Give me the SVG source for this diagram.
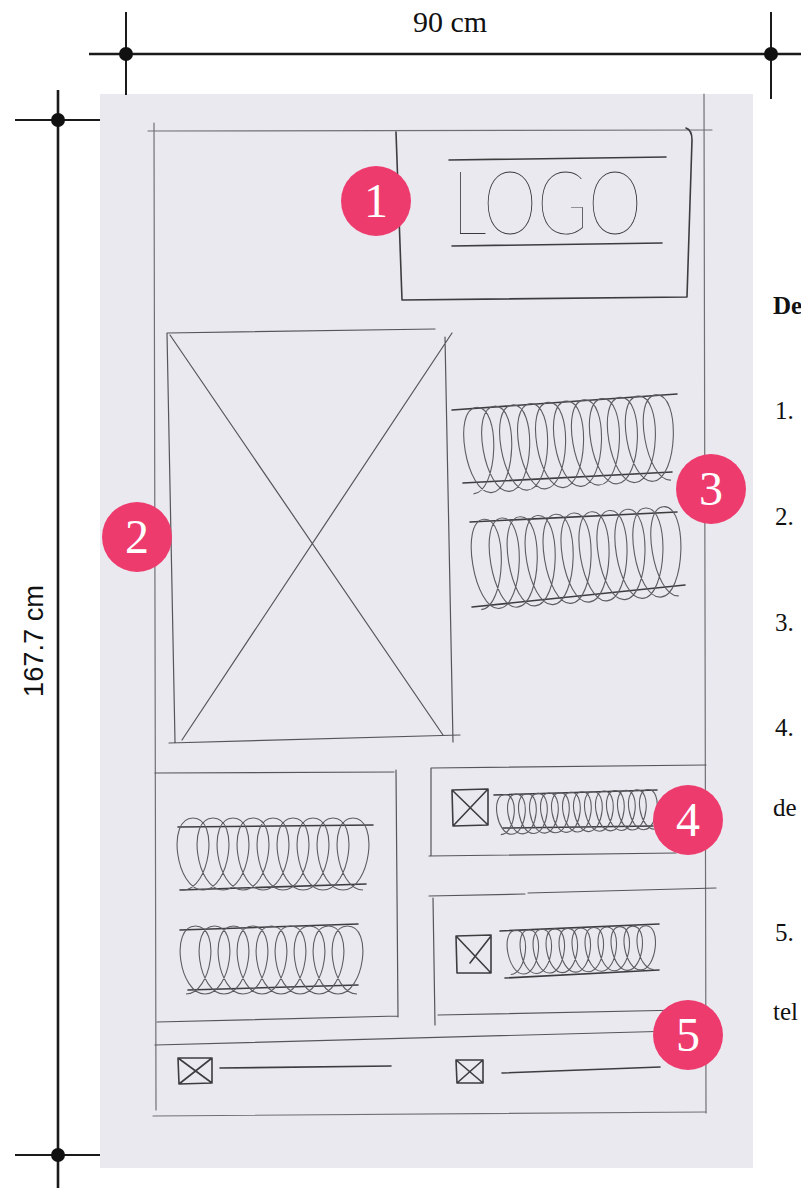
<svg xmlns="http://www.w3.org/2000/svg" width="801" height="1188" viewBox="0 0 801 1188">
<style>
.dim{stroke:#1a1a1a;stroke-width:2;fill:none}
.dimh{stroke:#1a1a1a;stroke-width:2.6;fill:none}
.dot{fill:#111}
.frame{stroke:#707074;stroke-width:1.2;fill:none;stroke-linecap:round}
.pen{stroke:#3d3d40;stroke-width:1.6;fill:none;stroke-linecap:round;stroke-linejoin:round}
.thin{stroke:#55555a;stroke-width:1.2;fill:none;stroke-linecap:round}
.loop{stroke:#5c5c61;stroke-width:1.1;fill:none}
.badge circle{fill:#ee3b6e}
.badge text{fill:#ffffff;font-family:"Liberation Serif",serif;font-size:48px;text-anchor:middle}
.side{font-family:"Liberation Serif",serif;font-size:25px;fill:#111}
.dimtxt{font-family:"Liberation Serif",serif;font-size:30px;fill:#111;text-anchor:middle}
</style>

<!-- paper -->
<rect id="paper" x="100" y="94" width="653" height="1074" fill="#eae9ef"/>

<!-- dimensions -->
<g id="dimensions">
  <line class="dimh" x1="89" y1="54" x2="801" y2="54"/>
  <line class="dim" x1="126" y1="12" x2="126" y2="95"/>
  <line class="dim" x1="771" y1="12" x2="771" y2="99"/>
  <circle class="dot" cx="126" cy="54" r="7"/>
  <circle class="dot" cx="771" cy="54" r="7"/>
  <text class="dimtxt" x="450" y="32">90 cm</text>
  <line class="dimh" x1="58" y1="90" x2="58" y2="1188"/>
  <line class="dim" x1="15" y1="120" x2="100" y2="120"/>
  <line class="dim" x1="15" y1="1155" x2="100" y2="1155"/>
  <circle class="dot" cx="58" cy="120" r="7"/>
  <circle class="dot" cx="58" cy="1155" r="7"/>
  <text transform="translate(43,641) rotate(-90)" x="0" y="0" text-anchor="middle" font-family="Liberation Sans, sans-serif" font-size="28" textLength="112" lengthAdjust="spacingAndGlyphs" fill="#111">167.7 cm</text>
</g>

<!-- page frame -->
<g id="frame">
  <line class="frame" x1="148" y1="131" x2="712" y2="130"/>
  <line class="frame" x1="154" y1="123" x2="156" y2="1110"/>
  <line class="frame" x1="704" y1="94" x2="706" y2="1113"/>
  <line class="frame" x1="153" y1="1116" x2="706" y2="1112"/>
</g>

<!-- 1: logo -->
<g id="logo">
  <path class="pen" d="M396,132 L402,300 L687,297 L692,140 Q692,130 686,128"/>
  <line class="pen" x1="449" y1="160" x2="666" y2="157"/>
  <line class="pen" x1="452" y1="246" x2="662" y2="243"/>
  <text x="452" y="234" font-family="Lato, sans-serif" font-weight="100" font-size="88" textLength="190" lengthAdjust="spacingAndGlyphs" fill="#3a3a3d">LOGO</text>
</g>

<!-- 2: image placeholder -->
<g id="image">
  <path class="thin" d="M167,333 L435,329 M167,333 L175,742 M445,337 L453,742 M169,743 L460,735 M170,335 L443,735 M452,333 L182,740"/>
</g>

<!-- 3: text blocks right -->
<g id="text-right">
  <line class="pen" x1="452" y1="410" x2="677" y2="394"/>
  <line class="pen" x1="463" y1="483" x2="672" y2="472"/>
  <line class="pen" x1="470" y1="522" x2="677" y2="512"/>
  <line class="pen" x1="472" y1="607" x2="685" y2="585"/>
  <path class="loop" transform="rotate(-4 570 440)" d="M470,487 c 25,0 34,-86 9,-86 c -25,0 -16,86 9,86 c 25,0 34,-86 9,-86 c -25,0 -16,86 9,86 c 25,0 34,-86 9,-86 c -25,0 -16,86 9,86 c 25,0 34,-86 9,-86 c -25,0 -16,86 9,86 c 25,0 34,-86 9,-86 c -25,0 -16,86 9,86 c 25,0 34,-86 9,-86 c -25,0 -16,86 9,86 c 25,0 34,-86 9,-86 c -25,0 -16,86 9,86 c 25,0 34,-86 9,-86 c -25,0 -16,86 9,86 c 25,0 34,-86 9,-86 c -25,0 -16,86 9,86 c 25,0 34,-86 9,-86 c -25,0 -16,86 9,86 c 25,0 34,-86 9,-86 c -25,0 -16,86 9,86"/>
  <path class="loop" transform="rotate(-4 575 560)" d="M478,603 c 25,0 34,-90 9,-90 c -25,0 -16,90 9,90 c 25,0 34,-90 9,-90 c -25,0 -16,90 9,90 c 25,0 34,-90 9,-90 c -25,0 -16,90 9,90 c 25,0 34,-90 9,-90 c -25,0 -16,90 9,90 c 25,0 34,-90 9,-90 c -25,0 -16,90 9,90 c 25,0 34,-90 9,-90 c -25,0 -16,90 9,90 c 25,0 34,-90 9,-90 c -25,0 -16,90 9,90 c 25,0 34,-90 9,-90 c -25,0 -16,90 9,90 c 25,0 34,-90 9,-90 c -25,0 -16,90 9,90 c 25,0 34,-90 9,-90 c -25,0 -16,90 9,90 c 25,0 34,-90 9,-90 c -25,0 -16,90 9,90"/>
</g>

<!-- lower left box -->
<g id="box-left">
  <path class="thin" d="M155,773 L394,772 M396,770 L398,1017 M157,1022 L398,1016"/>
  <line class="pen" x1="178" y1="827" x2="373" y2="825"/>
  <line class="pen" x1="180" y1="890" x2="366" y2="884"/>
  <line class="pen" x1="180" y1="930" x2="358" y2="924"/>
  <line class="pen" x1="188" y1="990" x2="358" y2="985"/>
  <path class="loop" d="M183,890 c 27,0 37,-72 10,-72 c -27,0 -17,72 10,72 c 27,0 37,-72 10,-72 c -27,0 -17,72 10,72 c 27,0 37,-72 10,-72 c -27,0 -17,72 10,72 c 27,0 37,-72 10,-72 c -27,0 -17,72 10,72 c 27,0 37,-72 10,-72 c -27,0 -17,72 10,72 c 27,0 37,-72 10,-72 c -27,0 -17,72 10,72 c 27,0 37,-72 10,-72 c -27,0 -17,72 10,72 c 27,0 37,-72 10,-72 c -27,0 -17,72 10,72 c 27,0 37,-72 10,-72 c -27,0 -17,72 10,72"/>
  <path class="loop" d="M186,994 c 26,0 35.5,-68 9.5,-68 c -26,0 -16.5,68 9.5,68 c 26,0 35.5,-68 9.5,-68 c -26,0 -16.5,68 9.5,68 c 26,0 35.5,-68 9.5,-68 c -26,0 -16.5,68 9.5,68 c 26,0 35.5,-68 9.5,-68 c -26,0 -16.5,68 9.5,68 c 26,0 35.5,-68 9.5,-68 c -26,0 -16.5,68 9.5,68 c 26,0 35.5,-68 9.5,-68 c -26,0 -16.5,68 9.5,68 c 26,0 35.5,-68 9.5,-68 c -26,0 -16.5,68 9.5,68 c 26,0 35.5,-68 9.5,-68 c -26,0 -16.5,68 9.5,68 c 26,0 35.5,-68 9.5,-68 c -26,0 -16.5,68 9.5,68"/>
</g>

<!-- 4: lower right box -->
<g id="box-4">
  <path class="thin" d="M431,768 L706,765 M431,768 L431,856 M429,856 L676,853"/>
  <path class="pen" d="M452,790 L488,789 L488,825 L453,826 Z M452,790 L488,825 M488,789 L453,826"/>
  <line class="pen" x1="494" y1="795" x2="657" y2="790"/>
  <line class="pen" x1="503" y1="828" x2="653" y2="826"/>
  <path class="loop" transform="rotate(-2 577 810)" d="M500,832 c 15,0 20.5,-40 5.5,-40 c -15,0 -9.5,40 5.5,40 c 15,0 20.5,-40 5.5,-40 c -15,0 -9.5,40 5.5,40 c 15,0 20.5,-40 5.5,-40 c -15,0 -9.5,40 5.5,40 c 15,0 20.5,-40 5.5,-40 c -15,0 -9.5,40 5.5,40 c 15,0 20.5,-40 5.5,-40 c -15,0 -9.5,40 5.5,40 c 15,0 20.5,-40 5.5,-40 c -15,0 -9.5,40 5.5,40 c 15,0 20.5,-40 5.5,-40 c -15,0 -9.5,40 5.5,40 c 15,0 20.5,-40 5.5,-40 c -15,0 -9.5,40 5.5,40 c 15,0 20.5,-40 5.5,-40 c -15,0 -9.5,40 5.5,40 c 15,0 20.5,-40 5.5,-40 c -15,0 -9.5,40 5.5,40 c 15,0 20.5,-40 5.5,-40 c -15,0 -9.5,40 5.5,40 c 15,0 20.5,-40 5.5,-40 c -15,0 -9.5,40 5.5,40 c 15,0 20.5,-40 5.5,-40 c -15,0 -9.5,40 5.5,40 c 15,0 20.5,-40 5.5,-40 c -15,0 -9.5,40 5.5,40"/>
</g>

<!-- lower right second box -->
<g id="box-right2">
  <path class="thin" d="M429,896 L525,894 M528,893 L716,888 M433,898 L435,1025 M438,1015 L683,1010"/>
  <path class="pen" d="M456,936 L491,935 L491,973 L457,973 Z M456,936 L491,973 M491,936 L470,963"/>
  <line class="pen" x1="500" y1="931" x2="659" y2="924"/>
  <line class="pen" x1="505" y1="978" x2="659" y2="970"/>
  <path class="loop" transform="rotate(-2 580 950)" d="M510,972 c 16,0 22.5,-44 6.5,-44 c -16,0 -9.5,44 6.5,44 c 16,0 22.5,-44 6.5,-44 c -16,0 -9.5,44 6.5,44 c 16,0 22.5,-44 6.5,-44 c -16,0 -9.5,44 6.5,44 c 16,0 22.5,-44 6.5,-44 c -16,0 -9.5,44 6.5,44 c 16,0 22.5,-44 6.5,-44 c -16,0 -9.5,44 6.5,44 c 16,0 22.5,-44 6.5,-44 c -16,0 -9.5,44 6.5,44 c 16,0 22.5,-44 6.5,-44 c -16,0 -9.5,44 6.5,44 c 16,0 22.5,-44 6.5,-44 c -16,0 -9.5,44 6.5,44 c 16,0 22.5,-44 6.5,-44 c -16,0 -9.5,44 6.5,44 c 16,0 22.5,-44 6.5,-44 c -16,0 -9.5,44 6.5,44 c 16,0 22.5,-44 6.5,-44 c -16,0 -9.5,44 6.5,44"/>
</g>

<!-- 5: footer -->
<g id="footer">
  <line class="thin" x1="155" y1="1045" x2="712" y2="1030"/>
  <path class="pen" d="M178,1058 L212,1058 L212,1083 L179,1084 Z M178,1058 L212,1083 M212,1058 L179,1084"/>
  <line class="pen" x1="220" y1="1068" x2="391" y2="1066"/>
  <path class="pen" d="M456,1060 L483,1060 L483,1083 L457,1083 Z M456,1060 L483,1083 M483,1060 L457,1083"/>
  <line class="pen" x1="502" y1="1073" x2="660" y2="1067"/>
</g>

<!-- badges -->
<g id="badge-1" class="badge"><circle cx="376" cy="201" r="35"/><text x="376" y="217">1</text></g>
<g id="badge-2" class="badge"><circle cx="137" cy="537" r="35"/><text x="137" y="553">2</text></g>
<g id="badge-3" class="badge"><circle cx="711" cy="489" r="35"/><text x="711" y="505">3</text></g>
<g id="badge-4" class="badge"><circle cx="688" cy="820" r="35"/><text x="688" y="836">4</text></g>
<g id="badge-5" class="badge"><circle cx="688" cy="1035" r="35"/><text x="688" y="1051">5</text></g>

<!-- side text -->
<g id="side-text">
  <text class="side" x="773" y="314" font-weight="bold">De</text>
  <text class="side" x="775" y="419">1.</text>
  <text class="side" x="775" y="525">2.</text>
  <text class="side" x="775" y="631">3.</text>
  <text class="side" x="775" y="736">4.</text>
  <text class="side" x="773" y="816">de</text>
  <text class="side" x="775" y="941">5.</text>
  <text class="side" x="773" y="1020">tel</text>
</g>
</svg>
